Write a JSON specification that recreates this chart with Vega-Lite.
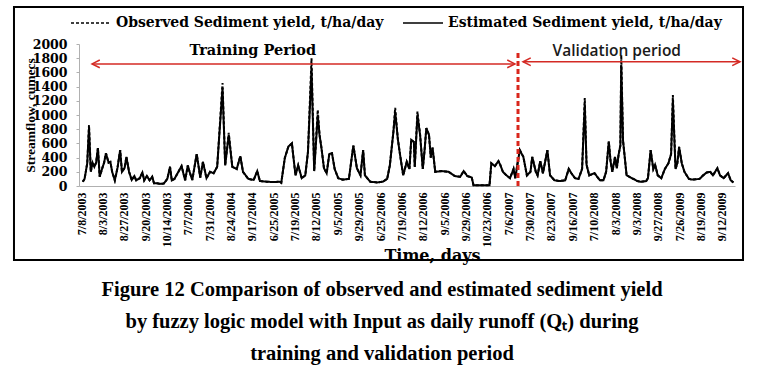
{
  "$schema": "https://vega.github.io/schema/vega-lite/v6.json",
  "autosize": "none",
  "width": 656,
  "height": 142,
  "padding": {"left": 79, "top": 44, "right": 23, "bottom": 187},
  "background": "white",
  "config": {"view": {"stroke": null}, "axis": {"labelOverlap": false}},
  "title": {
    "text": ["Figure 12 Comparison of observed and estimated sediment yield", "by fuzzy logic model with Input  as daily runoff (Qₜ) during", "training  and validation period"],
    "orient": "bottom", "anchor": "middle", "frame": "group",
    "font": "Liberation Serif", "fontSize": 20.5, "fontWeight": "bold", "color": "black",
    "lineHeight": 32, "offset": 17, "dx": -25
  },
  "data": {"values": [
    {"i":2,"obs":60,"est":60},{"i":4,"obs":100,"est":100},{"i":7,"obs":320,"est":320},{"i":9,"obs":860,"est":820},{"i":11,"obs":200,"est":200},
    {"i":13,"obs":330,"est":330},{"i":15,"obs":270,"est":270},{"i":17,"obs":330,"est":330},{"i":19,"obs":535,"est":535},{"i":21,"obs":130,"est":130},
    {"i":24,"obs":255,"est":255},{"i":26,"obs":330,"est":330},{"i":28,"obs":460,"est":460},{"i":31,"obs":330,"est":330},{"i":33,"obs":340,"est":340},
    {"i":35,"obs":200,"est":200},{"i":38,"obs":80,"est":80},{"i":41,"obs":255,"est":255},{"i":44,"obs":505,"est":505},{"i":46,"obs":200,"est":200},
    {"i":49,"obs":255,"est":255},{"i":51,"obs":410,"est":410},{"i":54,"obs":200,"est":200},{"i":57,"obs":85,"est":85},{"i":60,"obs":140,"est":140},
    {"i":62,"obs":80,"est":80},{"i":66,"obs":110,"est":110},{"i":69,"obs":190,"est":190},{"i":71,"obs":80,"est":80},{"i":74,"obs":140,"est":140},
    {"i":77,"obs":80,"est":80},{"i":80,"obs":130,"est":130},{"i":82,"obs":40,"est":40},{"i":85,"obs":40,"est":40},{"i":89,"obs":30,"est":30},
    {"i":93,"obs":35,"est":35},{"i":97,"obs":100,"est":100},{"i":100,"obs":270,"est":270},{"i":102,"obs":80,"est":80},{"i":105,"obs":100,"est":100},
    {"i":109,"obs":190,"est":190},{"i":113,"obs":280,"est":280},{"i":117,"obs":80,"est":80},{"i":120,"obs":290,"est":290},{"i":122,"obs":200,"est":200},
    {"i":125,"obs":85,"est":85},{"i":130,"obs":450,"est":450},{"i":134,"obs":120,"est":120},{"i":137,"obs":340,"est":340},{"i":141,"obs":110,"est":110},
    {"i":145,"obs":200,"est":200},{"i":149,"obs":180,"est":180},{"i":153,"obs":270,"est":270},{"i":159,"obs":1450,"est":1380},{"i":162,"obs":290,"est":290},
    {"i":166,"obs":750,"est":720},{"i":170,"obs":270,"est":270},{"i":175,"obs":240,"est":240},{"i":179,"obs":420,"est":420},{"i":182,"obs":200,"est":200},
    {"i":188,"obs":100,"est":100},{"i":194,"obs":85,"est":85},{"i":198,"obs":210,"est":210},{"i":201,"obs":70,"est":70},{"i":209,"obs":60,"est":60},
    {"i":216,"obs":55,"est":55},{"i":223,"obs":60,"est":60},{"i":225,"obs":45,"est":45},{"i":229,"obs":395,"est":395},{"i":233,"obs":555,"est":555},
    {"i":237,"obs":600,"est":600},{"i":238,"obs":480,"est":480},{"i":241,"obs":150,"est":150},{"i":244,"obs":290,"est":290},{"i":248,"obs":110,"est":110},
    {"i":252,"obs":150,"est":150},{"i":255,"obs":480,"est":480},{"i":259,"obs":1800,"est":1650},{"i":262,"obs":210,"est":210},{"i":266,"obs":1070,"est":1000},
    {"i":268,"obs":720,"est":720},{"i":270,"obs":550,"est":550},{"i":273,"obs":250,"est":250},{"i":276,"obs":180,"est":180},{"i":279,"obs":450,"est":450},
    {"i":282,"obs":460,"est":460},{"i":285,"obs":240,"est":240},{"i":289,"obs":110,"est":110},{"i":294,"obs":90,"est":90},{"i":301,"obs":100,"est":100},
    {"i":306,"obs":570,"est":570},{"i":310,"obs":250,"est":250},{"i":314,"obs":150,"est":150},{"i":317,"obs":505,"est":505},{"i":319,"obs":150,"est":150},
    {"i":325,"obs":60,"est":60},{"i":333,"obs":50,"est":50},{"i":339,"obs":60,"est":60},{"i":344,"obs":100,"est":100},{"i":347,"obs":290,"est":290},
    {"i":351,"obs":765,"est":765},{"i":353,"obs":1100,"est":1040},{"i":356,"obs":660,"est":660},{"i":358,"obs":480,"est":480},{"i":362,"obs":150,"est":150},
    {"i":366,"obs":340,"est":340},{"i":369,"obs":240,"est":240},{"i":371,"obs":650,"est":650},{"i":374,"obs":620,"est":620},{"i":375,"obs":270,"est":270},
    {"i":378,"obs":1050,"est":1000},{"i":381,"obs":720,"est":720},{"i":384,"obs":240,"est":240},{"i":386,"obs":500,"est":500},{"i":388,"obs":815,"est":815},
    {"i":391,"obs":720,"est":720},{"i":393,"obs":400,"est":400},{"i":395,"obs":540,"est":540},{"i":398,"obs":200,"est":200},{"i":405,"obs":210,"est":210},
    {"i":413,"obs":200,"est":200},{"i":420,"obs":140,"est":140},{"i":426,"obs":130,"est":130},{"i":430,"obs":210,"est":210},{"i":434,"obs":140,"est":140},
    {"i":439,"obs":120,"est":120},{"i":441,"obs":12,"est":12},{"i":449,"obs":12,"est":12},{"i":459,"obs":12,"est":12},{"i":461,"obs":320,"est":320},
    {"i":465,"obs":280,"est":280},{"i":469,"obs":350,"est":350},{"i":471,"obs":300,"est":300},{"i":474,"obs":200,"est":200},{"i":478,"obs":150,"est":150},
    {"i":482,"obs":110,"est":110},{"i":486,"obs":240,"est":240},{"i":488,"obs":110,"est":110},{"i":490,"obs":280,"est":280},{"i":493,"obs":505,"est":505},
    {"i":497,"obs":410,"est":410},{"i":501,"obs":150,"est":150},{"i":505,"obs":200,"est":200},{"i":507,"obs":410,"est":410},{"i":511,"obs":200,"est":200},
    {"i":513,"obs":150,"est":150},{"i":516,"obs":350,"est":350},{"i":519,"obs":180,"est":180},{"i":524,"obs":505,"est":505},{"i":527,"obs":150,"est":150},
    {"i":532,"obs":80,"est":80},{"i":538,"obs":70,"est":70},{"i":544,"obs":80,"est":80},{"i":548,"obs":240,"est":240},{"i":551,"obs":180,"est":180},
    {"i":555,"obs":110,"est":110},{"i":559,"obs":100,"est":100},{"i":563,"obs":240,"est":240},{"i":566,"obs":1240,"est":1150},{"i":568,"obs":300,"est":300},
    {"i":571,"obs":150,"est":150},{"i":577,"obs":180,"est":180},{"i":583,"obs":80,"est":80},{"i":587,"obs":80,"est":80},{"i":590,"obs":200,"est":200},
    {"i":593,"obs":625,"est":625},{"i":595,"obs":350,"est":350},{"i":597,"obs":200,"est":200},{"i":600,"obs":410,"est":410},{"i":602,"obs":250,"est":250},
    {"i":604,"obs":440,"est":440},{"i":606,"obs":570,"est":570},{"i":607,"obs":1845,"est":1700},{"i":609,"obs":640,"est":640},{"i":613,"obs":150,"est":150},
    {"i":619,"obs":110,"est":110},{"i":625,"obs":70,"est":70},{"i":629,"obs":60,"est":60},{"i":635,"obs":70,"est":70},{"i":637,"obs":110,"est":110},
    {"i":640,"obs":505,"est":505},{"i":643,"obs":240,"est":240},{"i":645,"obs":300,"est":300},{"i":648,"obs":150,"est":150},{"i":652,"obs":110,"est":110},
    {"i":656,"obs":240,"est":240},{"i":660,"obs":320,"est":320},{"i":663,"obs":450,"est":450},{"i":665,"obs":1280,"est":1200},{"i":668,"obs":240,"est":240},
    {"i":670,"obs":320,"est":320},{"i":672,"obs":550,"est":550},{"i":675,"obs":320,"est":320},{"i":678,"obs":200,"est":200},{"i":683,"obs":100,"est":100},
    {"i":687,"obs":90,"est":90},{"i":695,"obs":100,"est":100},{"i":699,"obs":150,"est":150},{"i":703,"obs":190,"est":190},{"i":707,"obs":200,"est":200},
    {"i":710,"obs":150,"est":150},{"i":715,"obs":250,"est":250},{"i":718,"obs":150,"est":150},{"i":722,"obs":110,"est":110},{"i":727,"obs":180,"est":180},
    {"i":730,"obs":80,"est":80},{"i":733,"obs":50,"est":50}
  ]},
  "layer": [
    {
      "transform": [{"fold": ["est", "obs"], "as": ["series", "value"]}],
      "mark": {"type": "line", "color": "black", "strokeWidth": 2, "clip": false},
      "encoding": {
        "x": {"field": "i", "type": "quantitative",
          "scale": {"domain": [-2.25, 734.8], "nice": false, "zero": false},
          "axis": {
            "values": [0,24,48,72,96,120,144,168,192,216,240,264,288,312,336,360,384,408,432,456,480,504,528,552,576,600,624,648,672,696,720],
            "tickCount": 100,
            "labelExpr": "['7/8/2003','8/3/2003','8/27/2003','9/20/2003','10/14/2003','7/7/2004','7/31/2004','8/24/2004','9/17/2004','6/25/2005','7/19/2005','8/12/2005','9/5/2005','9/29/2005','6/25/2006','7/19/2006','8/12/2006','9/5/2006','9/29/2006','10/23/2006','7/6/2007','7/30/2007','8/23/2007','9/16/2007','7/10/2008','8/3/2008','9/3/2008','9/27/2008','7/26/2009','8/19/2009','9/12/2009'][round(datum.value/24)]",
            "labelAngle": -90, "labelAlign": "right", "labelBaseline": "middle",
            "labelFont": "Liberation Serif", "labelFontWeight": "bold", "labelFontSize": 12, "labelColor": "black",
            "labelPadding": 6, "labelOverlap": false, "labelFlush": false, "labelBound": false,
            "ticks": false, "grid": false, "domainColor": "#b0b0b0", "domainWidth": 1,
            "title": "Time, days", "titleFont": "DejaVu Serif", "titleFontWeight": "bold", "titleFontSize": 16, "titleColor": "black",
            "titleX": 353, "titleY": 69, "titleBaseline": "middle"
          }
        },
        "y": {"field": "value", "type": "quantitative",
          "scale": {"domain": [0, 2000], "nice": false},
          "axis": {
            "values": [0,200,400,600,800,1000,1200,1400,1600,1800,2000], "tickCount": 100, "format": "d",
            "labelFont": "DejaVu Serif", "labelFontWeight": "bold", "labelFontSize": 12.5, "labelColor": "black",
            "labelPadding": 9, "labelOverlap": false, "tickSize": 3, "tickColor": "#b0b0b0", "domainColor": "#b0b0b0", "grid": false,
            "title": "Streamflow, cumecs", "titleFont": "Liberation Serif", "titleFontWeight": "bold", "titleFontSize": 13.5, "titleColor": "black",
            "titleX": -49, "titleY": 71, "titleAngle": -90, "titleBaseline": "middle", "titleAlign": "center"
          }
        },
        "strokeDash": {"field": "series", "type": "nominal",
          "scale": {"domain": ["obs", "est"], "range": [[3, 2], [1, 0]]},
          "legend": {
            "title": null, "orient": "none", "direction": "horizontal", "legendX": -9, "legendY": -42,
            "symbolType": "stroke", "symbolSize": 1600, "symbolStrokeWidth": 1.5, "symbolStrokeColor": "black",
            "labelFont": "DejaVu Serif", "labelFontWeight": "bold", "labelFontSize": 14, "labelColor": "black",
            "labelOffset": 4, "columnPadding": 16, "labelLimit": 400,
            "labelExpr": "datum.value == 'obs' ? 'Observed Sediment yield, t/ha/day' : 'Estimated Sediment yield, t/ha/day'"
          }
        },
        "detail": {"field": "series"}
      }
    },
    {
      "data": {"values": [{}]},
      "mark": {"type": "rect", "filled": false, "fill": null, "stroke": "black", "strokeWidth": 2, "clip": false},
      "encoding": {
        "x": {"datum": -75.3, "type": "quantitative"},
        "x2": {"datum": 743.8},
        "y": {"datum": -1042, "type": "quantitative"},
        "y2": {"datum": 2521}
      }
    },
    {
      "data": {"values": [{}]},
      "mark": {"type": "rule", "color": "#d9261c", "strokeWidth": 3, "strokeDash": [5, 3]},
      "encoding": {
        "x": {"datum": 491, "type": "quantitative"},
        "y": {"datum": 0, "type": "quantitative"},
        "y2": {"datum": 1915}
      }
    },
    {
      "data": {"values": [{}]},
      "mark": {"type": "rule", "color": "#d42a24", "strokeWidth": 1.5},
      "encoding": {
        "x": {"datum": 12.4, "type": "quantitative"},
        "x2": {"datum": 487.6},
        "y": {"datum": 1720, "type": "quantitative"}
      }
    },
    {
      "data": {"values": [{}]},
      "mark": {"type": "rule", "color": "#d42a24", "strokeWidth": 1.5, "clip": false},
      "encoding": {
        "x": {"datum": 496.6, "type": "quantitative"},
        "x2": {"datum": 740.4},
        "y": {"datum": 1750, "type": "quantitative"}
      }
    },
    {
      "data": {"values": [{}]},
      "mark": {"type": "point", "shape": "M2,-1L0,0L2,1", "filled": false, "stroke": "#d42a24", "strokeWidth": 1.5, "size": 60, "opacity": 1},
      "encoding": {
        "x": {"datum": 12.4, "type": "quantitative"},
        "y": {"datum": 1720, "type": "quantitative"}
      }
    },
    {
      "data": {"values": [{}]},
      "mark": {"type": "point", "shape": "M2,-1L0,0L2,1", "filled": false, "stroke": "#d42a24", "strokeWidth": 1.5, "size": 60, "opacity": 1},
      "encoding": {
        "x": {"datum": 496.6, "type": "quantitative"},
        "y": {"datum": 1750, "type": "quantitative"}
      }
    },
    {
      "data": {"values": [{}]},
      "mark": {"type": "point", "shape": "M-2,-1L0,0L-2,1", "filled": false, "stroke": "#d42a24", "strokeWidth": 1.5, "size": 60, "opacity": 1},
      "encoding": {
        "x": {"datum": 487.6, "type": "quantitative"},
        "y": {"datum": 1720, "type": "quantitative"}
      }
    },
    {
      "data": {"values": [{}]},
      "mark": {"type": "point", "shape": "M-2,-1L0,0L-2,1", "filled": false, "stroke": "#d42a24", "strokeWidth": 1.5, "size": 60, "opacity": 1, "clip": false},
      "encoding": {
        "x": {"datum": 740.4, "type": "quantitative"},
        "y": {"datum": 1750, "type": "quantitative"}
      }
    },
    {
      "data": {"values": [{}]},
      "mark": {"type": "text", "text": "Training Period", "font": "DejaVu Serif", "fontWeight": "bold", "fontSize": 14.5, "color": "black", "align": "center", "baseline": "middle"},
      "encoding": {
        "x": {"datum": 193, "type": "quantitative"},
        "y": {"datum": 1900, "type": "quantitative"}
      }
    },
    {
      "data": {"values": [{}]},
      "mark": {"type": "text", "text": "Validation period", "font": "Open Sans", "fontWeight": 600, "fontSize": 15.5, "color": "#1a1a1a", "align": "center", "baseline": "middle"},
      "encoding": {
        "x": {"datum": 602, "type": "quantitative"},
        "y": {"datum": 1900, "type": "quantitative"}
      }
    }
  ]
}
